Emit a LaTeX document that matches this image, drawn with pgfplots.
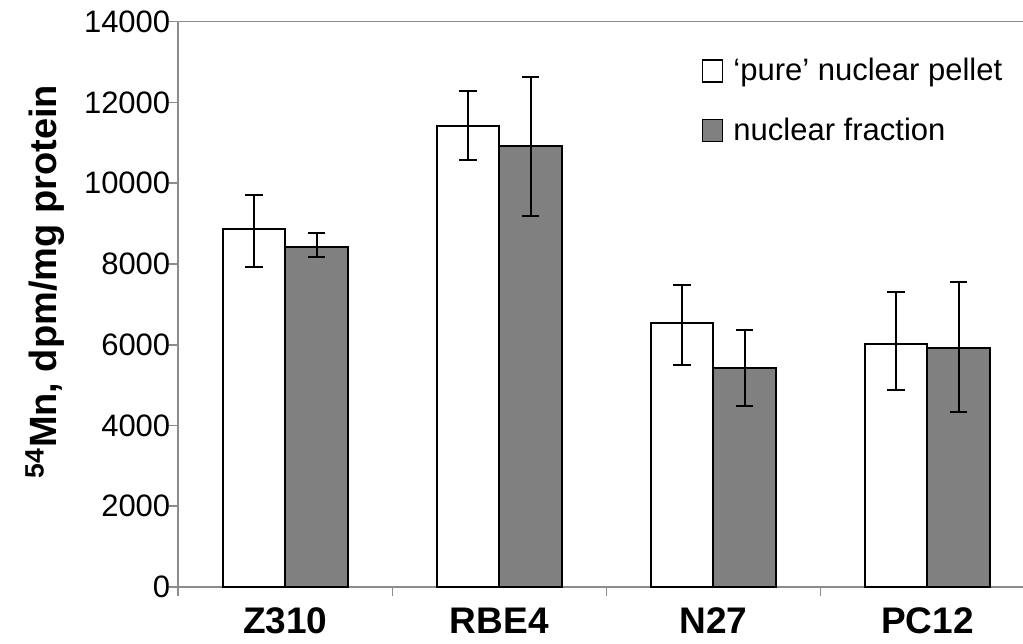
\documentclass[border=0pt]{standalone}
\usepackage{fontspec}
\setmainfont{Liberation Sans}
\usepackage{pgfplots}
\usepackage{pgfplotstable}
\pgfplotsset{compat=1.18}
\definecolor{barfill}{RGB}{128,128,128}
\definecolor{spine}{RGB}{140,140,140}
\pgfplotsset{sqlegend/.style={legend image code/.code={\draw[##1, line width=0.9pt] (0pt,-5.5pt) rectangle (10pt,5.5pt); \path[draw=none, fill=none] (0pt,0pt) rectangle (13.5pt,0.1pt);}}}
\pgfplotstableread{
x val plus minus
0 8858 857 941
1 11424 867 849
2 6530 949 1032
3 6010 1296 1124
}\puretab
\pgfplotstableread{
x val plus minus
0 8427 332 262
1 10921 1716 1726
2 5416 941 941
3 5926 1635 1600
}\fractab
\begin{document}
\begin{tikzpicture}
\path[use as bounding box] (-89.15pt,-28pt) rectangle (422.35pt,293.5pt);
\begin{axis}[
  scale only axis, width=422.35pt, height=282.65pt,
  at={(0,0)}, anchor=south west,
  xmin=-0.5, xmax=3.447, ymin=0, ymax=14000,
  ybar=0pt, bar width=0.292,
  axis x line*=bottom, axis y line*=left,
  axis line style={spine, line width=0.8pt},
  tick style={spine, line width=0.8pt},
  tick align=outside, major tick length=4.5pt,
  ytick distance=2000, scaled y ticks=false,
  yticklabel style={/pgf/number format/1000 sep={}, /pgf/number format/assume math mode=true, font=\fontsize{15.5}{18}\selectfont, black, xshift=4pt},
  xtick={-0.5,0.5,1.5,2.5}, xticklabels={},
  extra x ticks={0,1,2,3},
  extra x tick labels={Z310,RBE4,N27,PC12},
  extra x tick style={major tick length=0pt, tick label style={font=\bfseries\fontsize{18.5}{22}\selectfont, black, yshift=-7pt}},
  ylabel={\textsuperscript{54}Mn, dpm/mg protein},
  ylabel style={font=\bfseries\fontsize{19}{22}\selectfont, at={(axis description cs:-0.158,0.54)}, anchor=center, rotate=0},
  legend style={at={(0.619,0.943)}, anchor=north west, draw=none, fill=none, font=\fontsize{15.5}{18}\selectfont, row sep=13pt, inner sep=0pt},
  legend cell align=left,
]
\addplot[draw=black, fill=white, line width=0.9pt, sqlegend,
  error bars/.cd, y dir=both, y explicit,
  error bar style={line width=1pt, black},
  error mark options={rotate=90, mark size=4.3pt, line width=1pt, black}]
  table[x=x, y=val, y error plus=plus, y error minus=minus] {\puretab};
\addlegendentry{`pure' nuclear pellet}
\addplot[draw=black, fill=barfill, line width=0.9pt, sqlegend,
  error bars/.cd, y dir=both, y explicit,
  error bar style={line width=1pt, black},
  error mark options={rotate=90, mark size=4.3pt, line width=1pt, black}]
  table[x=x, y=val, y error plus=plus, y error minus=minus] {\fractab};
\addlegendentry{nuclear fraction}
\draw[spine, line width=0.8pt] (rel axis cs:0,1) -- (rel axis cs:1,1);
\end{axis}
\end{tikzpicture}
\end{document}
